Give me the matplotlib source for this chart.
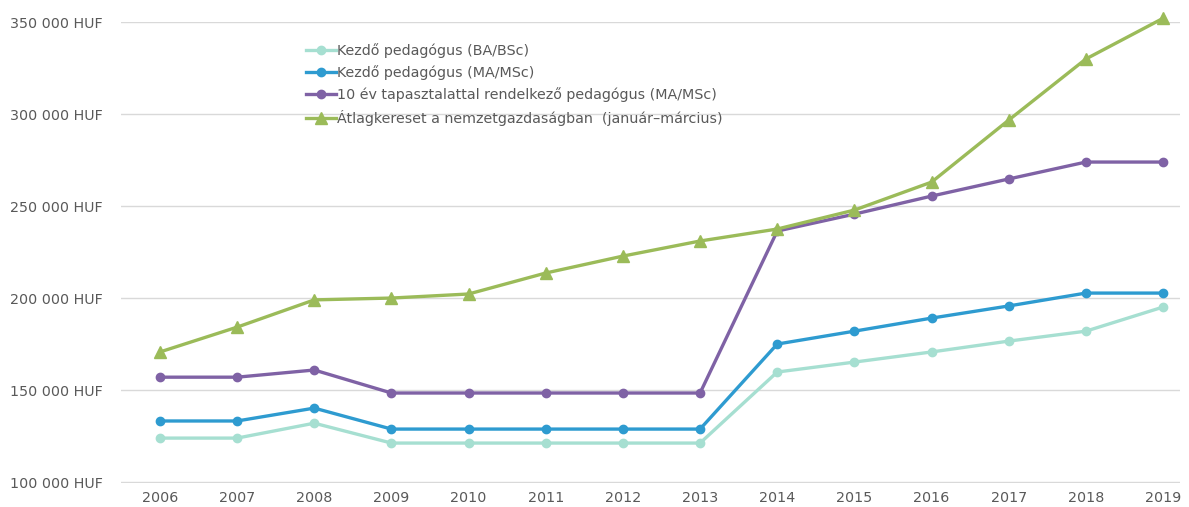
import matplotlib
matplotlib.use("Agg")
import matplotlib.pyplot as plt

years = ["2006", "2007", "2008", "2009", "2010", "2011", "2012", "2013",
         "2014", "2015", "2016", "2017", "2018", "2019"]
kezdo_ba = [123900, 123900, 132000, 121200, 121200, 121200, 121200, 121200,
            159800, 165200, 170700, 176600, 182000, 195100]
kezdo_ma = [133200, 133200, 140200, 128800, 128800, 128800, 128800, 128800,
            175000, 182000, 189100, 195700, 202700, 202700]
tiz_ev = [157000, 157000, 160900, 148400, 148400, 148400, 148400, 148400,
          236400, 245600, 255400, 264700, 273900, 273900]
atlag = [170700, 184200, 199000, 200000, 202200, 213600, 222800, 231000,
         237500, 247800, 263000, 296700, 329900, 352000]

labels = ["Kezdő pedagógus (BA/BSc)",
          "Kezdő pedagógus (MA/MSc)",
          "10 év tapasztalattal rendelkező pedagógus (MA/MSc)",
          "Átlagkereset a nemzetgazdaságban  (január–március)"]
colors = ["#a6dfd1", "#2e9bd0", "#7f62a5", "#9bbb59"]
yticks = [100000, 150000, 200000, 250000, 300000, 350000]

W, H = 1189, 507
fig = plt.figure(figsize=(W / 100, H / 100), dpi=100)
left, right, top, bottom = 121, 1180, 22, 483
ax = fig.add_axes([left / W, 1 - bottom / H, (right - left) / W, (bottom - top) / H])

x = list(range(len(years)))
series = [kezdo_ba, kezdo_ma, tiz_ev, atlag]
markers = ["o", "o", "o", "^"]
msizes = [6, 6, 6, 8.5]
for s, c, m, ms, lab in zip(series, colors, markers, msizes, labels):
    ax.plot(x, s, color=c, lw=2.4, marker=m, markersize=ms, label=lab,
            clip_on=False, zorder=3)

ax.set_xlim(-0.505, 13.22)
ax.set_ylim(99500, 350000)
ax.set_xticks(x)
ax.set_xticklabels(years)
ax.set_yticks(yticks)
ax.set_yticklabels([f"{v // 1000} 000 HUF" for v in yticks])
for sp in ax.spines.values():
    sp.set_visible(False)
ax.grid(axis="y", color="#d9d9d9", lw=1)
ax.set_axisbelow(True)
ax.tick_params(axis="both", length=0, colors="#595959", labelsize=10.3)
ax.tick_params(axis="y", pad=13)
ax.tick_params(axis="x", pad=6)

leg = ax.legend(loc="upper left", bbox_to_anchor=((300 - left) / (right - left), 1 - (37 - top) / (bottom - top)),
                frameon=False, handlelength=2.1, handletextpad=0.12,
                labelspacing=0.52, borderaxespad=0, labelcolor="#595959",
                prop={"size": 10.3})

fig.savefig("out.png", dpi=100)
